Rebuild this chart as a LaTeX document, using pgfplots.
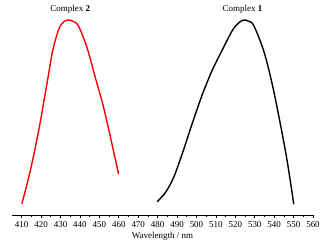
\documentclass[border=0pt]{standalone}
\usepackage{pgfplots}
\pgfplotsset{compat=1.18}
\usepackage{fontspec}
\setmainfont{Liberation Serif}
\begin{document}
\begin{tikzpicture}
\begin{axis}[
  scale only axis,
  width=301bp, height=214.5bp,
  xmin=405, xmax=560, ymin=0, ymax=1.1,
  axis x line*=bottom,
  hide y axis,
  x axis line style={-, line width=0.8pt},
  xtick={410,420,...,560},
  minor x tick num=1,
  tick align=outside,
  major tick length=3bp,
  minor tick length=2bp,
  tick style={black, line width=0.7pt},
  /pgf/number format/assume math mode=true,
  ticklabel style={font=\fontsize{9}{10}\selectfont},
  xticklabel style={yshift=-0.5bp},
  xlabel={Wavelength / nm},
  xlabel style={font=\fontsize{9}{10}\selectfont, yshift=3bp},
  clip=false,
]
\addplot[red, line width=1.4pt, smooth, tension=0.55] coordinates {
(410.1,0.058) (414.4,0.226) (418.7,0.431) (421.2,0.570) (423.8,0.720) (426.0,0.845)
(429.0,0.950) (431.5,0.990) (434.1,1.0) (436.7,0.992) (439.3,0.968) (443.6,0.859)
(447.9,0.705) (452.2,0.551) (456.5,0.363) (459.9,0.209)
};
\addplot[black, line width=1.4pt, smooth, tension=0.55] coordinates {
(479.7,0.068) (484.0,0.115) (488.2,0.192) (492.6,0.312) (497.7,0.466) (502.9,0.615)
(508.0,0.740) (513.2,0.845) (518.4,0.945) (521.5,0.983) (524.3,1.0) (527,0.993)
(529.5,0.971) (534.6,0.842) (539.0,0.671) (543.2,0.466) (546.7,0.277) (550.1,0.055)
};
\node[font=\fontsize{9}{10}\selectfont] at (axis cs:435,1.056) {Complex \textbf{2}};
\node[font=\fontsize{9}{10}\selectfont] at (axis cs:523.7,1.056) {Complex \textbf{1}};
\end{axis}
\path (-12bp,-32bp) rectangle (318bp,215bp);
\end{tikzpicture}
\end{document}
